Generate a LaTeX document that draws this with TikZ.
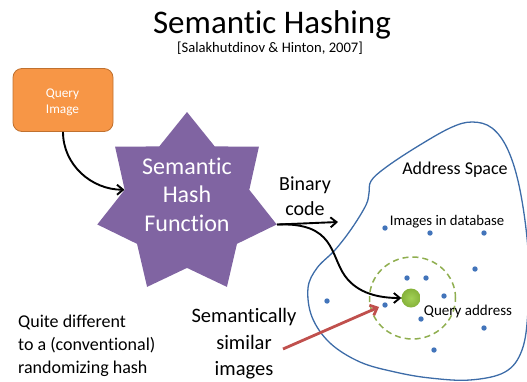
\documentclass[tikz,border=0pt]{standalone}
\usepackage{fontspec}
\setmainfont[Ligatures=NoCommon]{Carlito}
\usepackage{tikz}
\usetikzlibrary{arrows.meta, shapes.geometric, shadings}

\definecolor{queryorange}{HTML}{F79646}
\definecolor{queryedge}{HTML}{C0712F}
\definecolor{hashpurple}{HTML}{8064A2}
\definecolor{spaceblue}{HTML}{3D6CA8}
\definecolor{dotblue}{HTML}{4274BA}
\definecolor{nearolive}{HTML}{8FAE4F}
\definecolor{balllight}{HTML}{A2D055}
\definecolor{ballgreen}{HTML}{86B23A}
\definecolor{simred}{HTML}{C0504D}

\begin{document}
\begin{tikzpicture}[x=1pt, y=-1pt,
  flow/.style={line width=1.9pt, -{Straight Barb[length=6pt,width=10pt]}},
  plain/.style={inner sep=0pt, anchor=base},
  dbdot/.style={fill=dotblue}]
  \useasboundingbox (0,0) rectangle (527,381);

  %--- title ---
  \node[plain, font=\fontsize{33}{40}\selectfont] (title) at (272,33) {Semantic Hashing};
  \node[plain, font=\fontsize{14.6}{18}\selectfont] (cite) at (270,52.5)
    {[Salakhutdinov \& Hinton, 2007]};

  %--- query image and hash function ---
  \node[draw=queryedge, fill=queryorange, rounded corners=9pt, line width=0.8pt,
        minimum width=100pt, minimum height=63pt] (query) at (63,100) {};
  \node[inner sep=0pt, align=center, text=white,
        font=\fontsize{13.3}{16}\selectfont] (querytext) at (62.5,102) {Query\\Image};

  \node[star, star points=7, star point ratio=1.44, minimum size=184pt,
        inner sep=0pt, fill=hashpurple] (hash) at (187,204) {};
  \node[inner sep=0pt, align=center, text=white,
        font=\fontsize{24}{28.5}\selectfont] (hashtext) at (187,194.5)
    {Semantic\\Hash\\Function};

  \draw[flow] (query.south) to[out=-90, in=180] (hash.inner point 2);

  %--- binary code ---
  \coordinate (codeend) at (338,222);
  \node[inner sep=0pt, align=center, font=\fontsize{20}{24.5}\selectfont]
    (codetext) at (305,196) {Binary\\code};
  \draw[flow] (hash.outer point 6) -- (codeend);

  %--- address space ---
  \draw[spaceblue, line width=1.3pt] plot[smooth cycle, tension=0.6] coordinates {
    (335,250) (352,228) (366,205) (369,193) (371,181) (385,168) (415,148)
    (450,128) (472,122) (492,128) (508,150) (520,190) (528,250) (528,310)
    (522,350) (505,372) (470,380) (430,378) (395,372) (360,362) (330,343)
    (312,317) (308,288) (317,268)};
  \node[plain, font=\fontsize{18}{22}\selectfont] (spacetext) at (455,174) {Address Space};
  \node[plain, font=\fontsize{14.7}{18}\selectfont] (dbtext) at (447,225) {Images in database};

  % images in database
  \foreach \px/\py in {385/228, 430/233, 484/233, 475/269, 407/278, 426/278,
                       444/296, 327/301, 385/305, 421/319, 484/328, 434/350}
    \fill[dbdot] (\px,\py) circle (2.7pt);

  % neighbourhood of the query
  \draw[nearolive, line width=1.5pt, dash pattern=on 6pt off 4pt]
    (412.5,298) ellipse [x radius=43pt, y radius=41pt];
  \node[circle, inner sep=0pt, minimum size=19pt, inner color=balllight,
        outer color=ballgreen] (qball) at (411,298) {};
  \node[plain, font=\fontsize{15}{18}\selectfont] (qtext) at (468,315) {Query address};

  \draw[flow] (hash.outer point 6) .. controls (335,222) and (330,255) ..
    (345,276) .. controls (358,294) and (380,298) .. (qball.west);

  %--- semantically similar ---
  \node[inner sep=0pt, align=center, font=\fontsize{20.5}{26.5}\selectfont]
    (simtext) at (244,344) {Semantically\\similar\\images};
  \coordinate (simtail) at (283,349);
  \coordinate (simtip) at (379,307);
  \draw[simred, line width=2.8pt, -{Straight Barb[length=6pt,width=11pt]}] (simtail) -- (simtip);

  %--- note ---
  \node[inner sep=0pt, align=left, anchor=north west, font=\fontsize{18}{23}\selectfont]
    (note) at (18,314.5) {Quite different\\to a (conventional)\\randomizing hash};
\end{tikzpicture}
\end{document}
